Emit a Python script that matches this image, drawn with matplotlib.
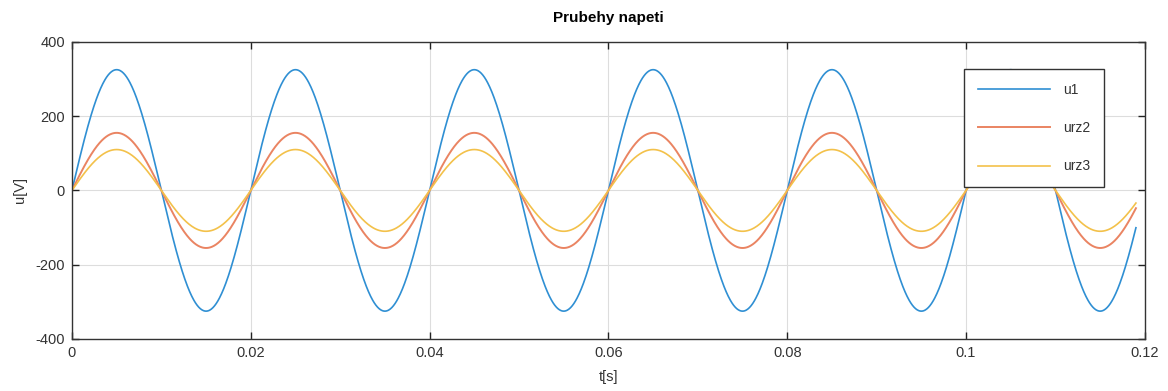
import numpy as np
import matplotlib
matplotlib.use("Agg")
import matplotlib.pyplot as plt

# values
freq = 50.0            # Hz, one period = 0.02 s
t_end = 0.119          # s, last sample
names = ["u1", "urz2", "urz3"]
amplitudes = [325, 155, 110]   # V, peak values
colors = ["#2f8fd3", "#ea8462", "#f3c14a"]
widths = [1.2, 1.4, 1.2]

x_ticks = [0, 0.02, 0.04, 0.06, 0.08, 0.1, 0.12]
x_labels = ["0", "0.02", "0.04", "0.06", "0.08", "0.1", "0.12"]
y_ticks = [-400, -200, 0, 200, 400]

plt.rcParams['font.family'] = ['Liberation Sans', 'DejaVu Sans']
plt.rcParams['axes.unicode_minus'] = False

fig = plt.figure(figsize=(11.68, 3.91), dpi=100)
ax = fig.add_axes([0.0616, 0.133, 0.9186, 0.760])

t = np.linspace(0, t_end, 2000)
for name, amp, c, lw in zip(names, amplitudes, colors, widths):
    ax.plot(t, amp * np.sin(2 * np.pi * freq * t), color=c, lw=lw, label=name)

ax.set_xlim(0, 0.12)
ax.set_ylim(-400, 400)
ax.set_xticks(x_ticks)
ax.set_xticklabels(x_labels)
ax.set_yticks(y_ticks)
ax.grid(True, color="#dddddd", lw=0.8)
ax.set_axisbelow(True)
ax.tick_params(direction="in", top=True, right=True, length=5, width=1,
               labelsize=10.5, colors="#222222", labelcolor="#333333", pad=5)
for s in ax.spines.values():
    s.set_color("#333333")
    s.set_linewidth(1)

ax.set_xlabel("t[s]", fontsize=10.5, color="#333333", labelpad=7)
ax.set_ylabel("u[V]", fontsize=10.5, color="#333333", labelpad=6)
ax.set_title("Prubehy napeti", fontsize=11, fontweight="bold", pad=14)

leg = ax.legend(loc="upper right", bbox_to_anchor=(0.962, 0.909),
                fontsize=10, frameon=True, fancybox=False, labelspacing=1.75,
                handlelength=5.2, handletextpad=0.9, borderpad=1.0,
                borderaxespad=0, edgecolor="#333333", framealpha=1)
leg.get_frame().set_linewidth(1)
for text in leg.get_texts():
    text.set_color("#333333")

plt.savefig("out.png", dpi=100)
plt.close()
